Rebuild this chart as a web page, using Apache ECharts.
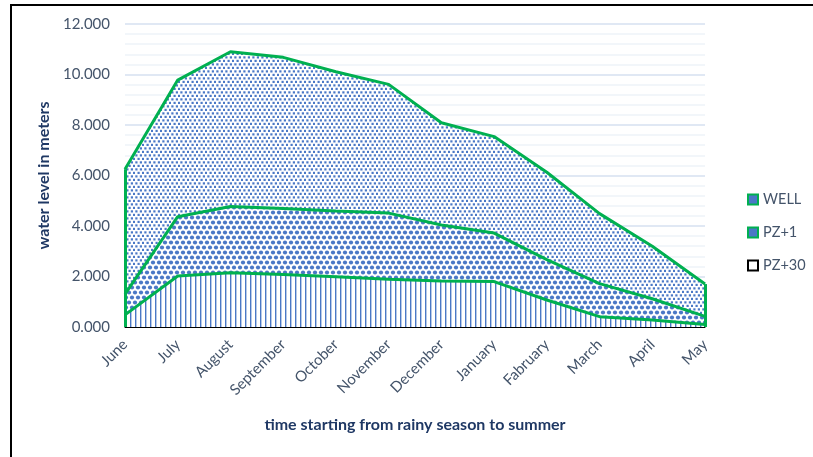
<!DOCTYPE html>
<html>
<head>
<meta charset="utf-8">
<script src="https://cdn.jsdelivr.net/npm/echarts@6/dist/echarts.min.js"></script>
<style>
  html, body { margin: 0; padding: 0; background: #fff; }
  #main { width: 813px; height: 457px; }
</style>
</head>
<body>
<div id="main"></div>
<script>
var months = ['June', 'July', 'August', 'September', 'October', 'November', 'December',
    'January', 'Fabruary', 'March', 'April', 'May'];
var well = [6.25, 9.78, 10.9, 10.68, 10.11, 9.61, 8.09, 7.54, 6.13, 4.49, 3.2, 1.7];
var pz1 = [1.3, 4.37, 4.77, 4.69, 4.59, 4.51, 4.04, 3.72, 2.67, 1.72, 1.12, 0.42];
var pz30 = [0.48, 2.02, 2.15, 2.08, 1.99, 1.89, 1.82, 1.8, 1.07, 0.41, 0.28, 0.1];

var blue = '#4a78c6';
var green = '#00b050';

// little canvas tiles to mimic the excel fill patterns
function makeTile(w, h, draw) {
    var c = document.createElement('canvas');
    c.width = w; c.height = h;
    var ctx = c.getContext('2d');
    ctx.fillStyle = '#fff';
    ctx.fillRect(0, 0, w, h);
    draw(ctx);
    return { image: c, repeat: 'repeat' };
}
var dotsFill = makeTile(9, 7, ctx => {
    ctx.fillStyle = blue;
    ctx.fillRect(0.3, 0.3, 2.2, 2.2);
    ctx.fillRect(4.8, 0.3, 2.2, 2.2);
    ctx.fillRect(2.5, 3.8, 2.2, 2.2);
    ctx.fillRect(7, 3.8, 2, 2.2);
});
var circleFill = makeTile(6, 10, ctx => {
    ctx.fillStyle = blue;
    [[3, 2.5], [0, 7.5], [6, 7.5]].forEach(p => {
        ctx.beginPath(); ctx.arc(p[0], p[1], 2.1, 0, Math.PI * 2); ctx.fill();
    });
});
var stripeFill = makeTile(5, 2, ctx => {
    ctx.fillStyle = blue;
    ctx.fillRect(0, 0, 1.4, 2);
});

function edges(vals) {
    var n = vals.length - 1;
    return [
        [{ coord: [months[0], 0] }, { coord: [months[0], vals[0]] }],
        [{ coord: [months[n], 0] }, { coord: [months[n], vals[n]] }]
    ];
}

function areaSeries(name, vals, fill) {
    return {
        name: name,
        type: 'line',
        data: vals,
        showSymbol: false,
        symbol: 'none',
        lineStyle: { color: green, width: 3 },
        itemStyle: { color: green },
        areaStyle: { color: fill, opacity: 1 },
        markLine: {
            silent: true,
            symbol: 'none',
            label: { show: false },
            lineStyle: { color: green, width: 3, type: 'solid' },
            data: edges(vals)
        }
    };
}

var myChart = echarts.init(document.getElementById('main'), null, { renderer: 'canvas' });
var option = {
    animation: false,
    textStyle: { fontFamily: 'Lato' },
    grid: { left: 125, right: 108, top: 24, bottom: 130 },
    graphic: [{
        type: 'rect',
        shape: { x: 11, y: 5, width: 900, height: 600 },
        style: { fill: 'none', stroke: '#000', lineWidth: 2 },
        silent: true
    }],
    legend: {
        orient: 'vertical',
        left: 742,
        top: 187,
        icon: 'rect',
        itemWidth: 10,
        itemHeight: 10,
        itemGap: 18,
        textStyle: { color: '#44546a', fontSize: 14.5, fontFamily: 'Lato' },
        data: [
            { name: 'WELL', itemStyle: { color: blue, borderColor: green, borderWidth: 2 } },
            { name: 'PZ+1', itemStyle: { color: blue, borderColor: green, borderWidth: 2 } },
            { name: 'PZ+30', itemStyle: { color: '#fff', borderColor: '#000', borderWidth: 2 } }
        ]
    },
    xAxis: {
        type: 'category',
        data: months,
        boundaryGap: false,
        axisLine: { lineStyle: { color: '#000', width: 1 } },
        axisTick: { show: false },
        axisLabel: { rotate: 45, color: '#44546a', fontSize: 15, margin: 15 },
        name: 'time starting from rainy season to summer',
        nameLocation: 'middle',
        nameGap: 90,
        nameTextStyle: { color: '#1f3864', fontWeight: 'bold', fontSize: 16 }
    },
    yAxis: {
        type: 'value',
        min: 0,
        max: 12,
        interval: 2,
        axisLine: { show: false },
        axisTick: { show: false },
        axisLabel: {
            color: '#44546a', fontSize: 15, margin: 15,
            formatter: v => v.toFixed(3)
        },
        splitLine: { lineStyle: { color: '#d6e1f1', width: 1.5 } },
        minorTick: { show: false, splitNumber: 5 },
        minorSplitLine: { show: true, lineStyle: { color: '#eef3f9', width: 1.5 } },
        name: 'water level in meters',
        nameLocation: 'middle',
        nameGap: 70,
        nameTextStyle: { color: '#1f3864', fontWeight: 'bold', fontSize: 16 }
    },
    series: [
        areaSeries('WELL', well, dotsFill),
        areaSeries('PZ+1', pz1, circleFill),
        areaSeries('PZ+30', pz30, stripeFill)
    ]
};
myChart.setOption(option);
window.addEventListener('resize', myChart.resize);
</script>
</body>
</html>
